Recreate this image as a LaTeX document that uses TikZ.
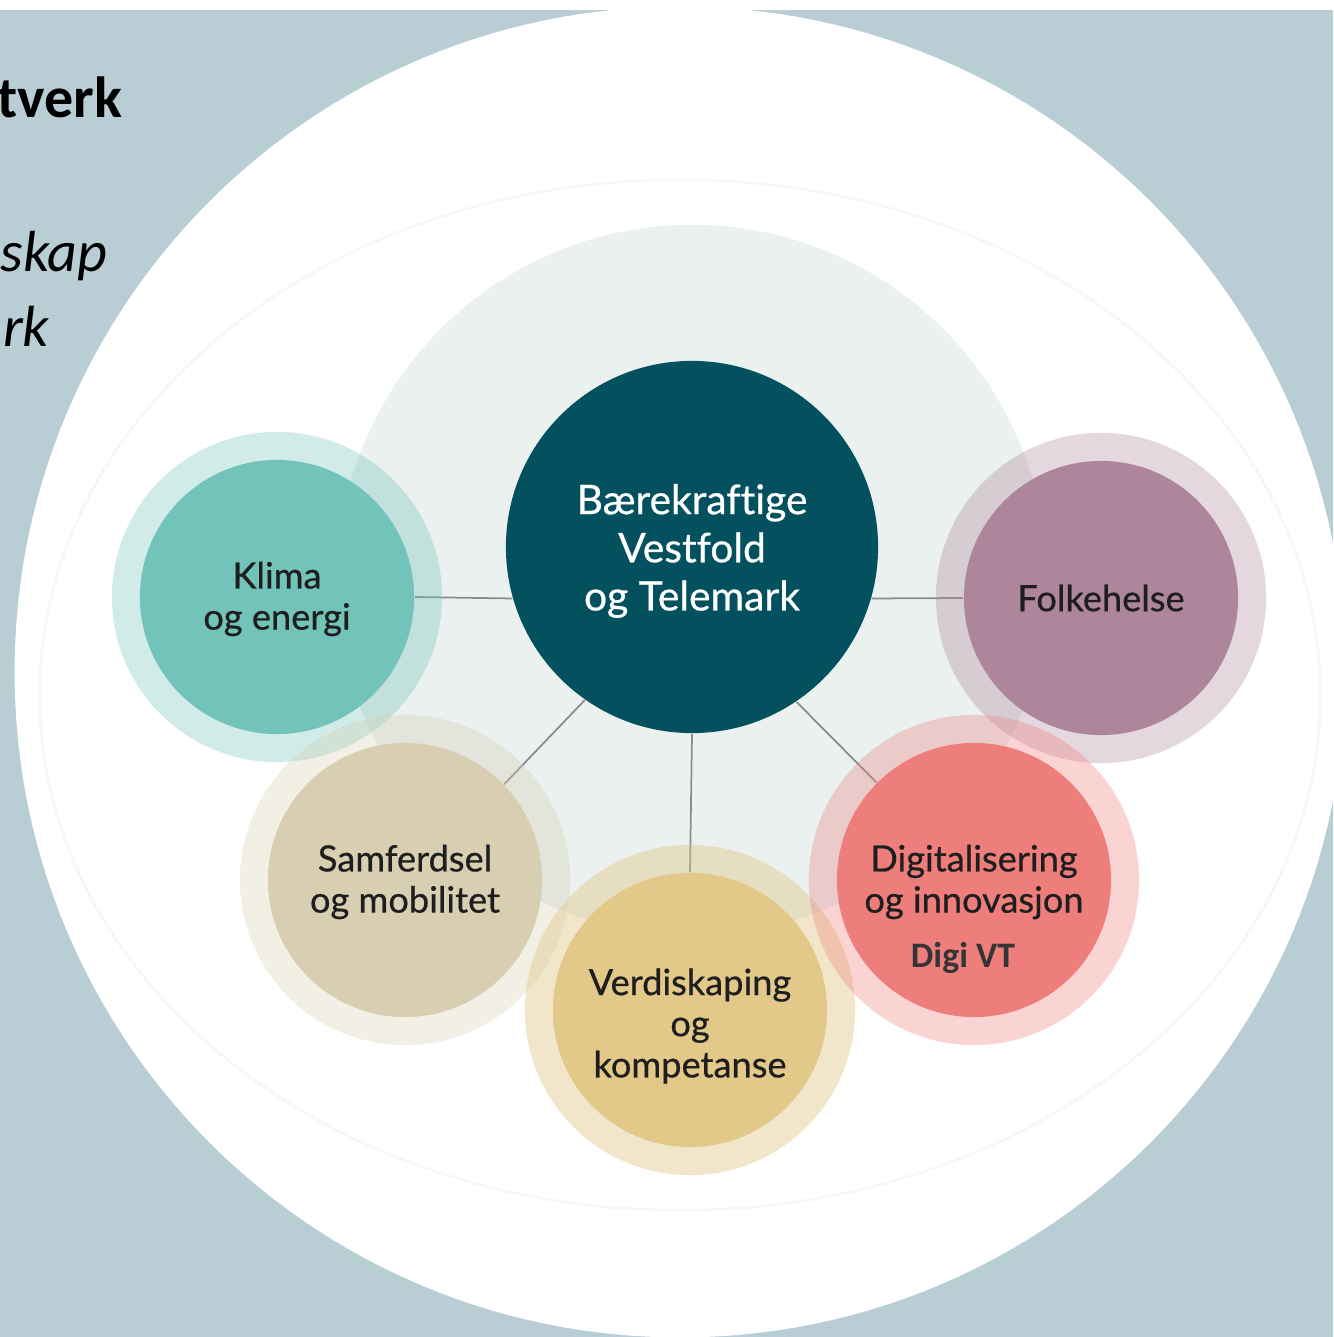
\documentclass[tikz,border=0pt]{standalone}
\usepackage{fontspec}
\setmainfont{Lato}[Ligatures=NoCommon]
\newfontfamily\topicfont{Lato}[Ligatures=NoCommon, BoldFont={Lato}, BoldFeatures={FakeBold=0.6}]
\newfontfamily\slidefont{Carlito}
\usepackage{tikz}
\usetikzlibrary{positioning,backgrounds}
\definecolor{slateback}{RGB}{184,205,212}
\definecolor{paleback}{RGB}{234,241,239}
\definecolor{vtpetrol}{RGB}{3,81,95}
\definecolor{klimagreen}{RGB}{114,195,186}
\definecolor{folkeplum}{RGB}{174,134,156}
\definecolor{samfsand}{RGB}{216,207,178}
\definecolor{verdigold}{RGB}{226,200,137}
\definecolor{digired}{RGB}{238,126,124}
\definecolor{labelink}{RGB}{30,30,30}

\begin{document}
\begin{tikzpicture}[
    x=0.01cm, y=-0.01cm,
    halo/.style={circle, minimum size=3.3cm, inner sep=0pt, fill opacity=0.33},
    topic/.style={circle, minimum size=2.74cm, inner sep=0pt},
    topictext/.style={align=center, inner sep=0pt, text=labelink, yshift=-0.02cm,
        font=\topicfont\bfseries\fontsize{10.3}{11.7}\selectfont},
    hub/.style={circle, minimum size=3.72cm, inner sep=0pt, fill=vtpetrol},
    hubtext/.style={align=center, inner sep=0pt, text=white, yshift=-0.04cm,
        font=\topicfont\bfseries\fontsize{11.6}{13.7}\selectfont},
    slidetext/.style={inner sep=0pt, anchor=base east, text=black},
    link/.style={draw=black!45, line width=0.5pt}
]
\clip (0,0) rectangle (1333,1337);
\begin{scope}[on background layer]
\fill[white] (0,0) rectangle (1333,1337);
\fill[slateback] (0,10) rectangle (1333,1337);
\fill[white] (680,672) circle (6.65cm);
\draw[black!3, line width=0.8pt] (680,695) ellipse [x radius=6.4cm, y radius=5.15cm];
\fill[paleback] (692,580) circle (3.55cm);
\end{scope}

% slide text cut at the left edge
\node[slidetext, font=\slidefont\bfseries\fontsize{16.5}{20}\selectfont] (heading) at (123,118) {tverk};
\node[slidetext, font=\slidefont\itshape\fontsize{16.5}{20}\selectfont] (lineone) at (108,272) {skap};
\node[slidetext, font=\slidefont\itshape\fontsize{16.5}{20}\selectfont] (linetwo) at (50,347) {rk};

\node[hub, label={[hubtext]center:Bærekraftige\\Vestfold\\og Telemark}] (centre) at (692,547) {};

\node[halo, fill=klimagreen] (klimaring) at (277,597) {};
\node[topic, fill=klimagreen, label={[topictext]center:Klima\\og energi}] (klima) at (klimaring) {};
\node[halo, fill=folkeplum] (folkering) at (1101,598) {};
\node[topic, fill=folkeplum, label={[topictext, yshift=0.02cm]center:Folkehelse}] (folke) at (folkering) {};
\node[halo, fill=samfsand] (samfring) at (405,880) {};
\node[topic, fill=samfsand, label={[topictext]center:Samferdsel\\og mobilitet}] (samf) at (samfring) {};
\node[halo, fill=verdigold, fill opacity=0.45] (verdiring) at (690,1010) {};
\node[topic, fill=verdigold, label={[topictext, yshift=-0.14cm]center:Verdiskaping\\og\\kompetanse}] (verdi) at (verdiring) {};
\node[halo, fill=digired] (digiring) at (974,880) {};
\node[topic, fill=digired, label={[topictext]center:Digitalisering\\og innovasjon}] (digi) at (digiring) {};
\node[inner sep=0pt, text=labelink!90, font=\slidefont\bfseries\fontsize{10.2}{12}\selectfont]
    (digivt) at (963,958) {Digi VT};

\begin{scope}[on background layer]
\draw[link] (klima.east) -- (centre.196);
\draw[link] (centre.344) -- (folke.west);
\draw[link] (centre.235) -- (samf.44);
\draw[link] (centre.south) -- (verdi.north);
\draw[link] (centre.304) -- (digi.135);
\end{scope}
\end{tikzpicture}
\end{document}
